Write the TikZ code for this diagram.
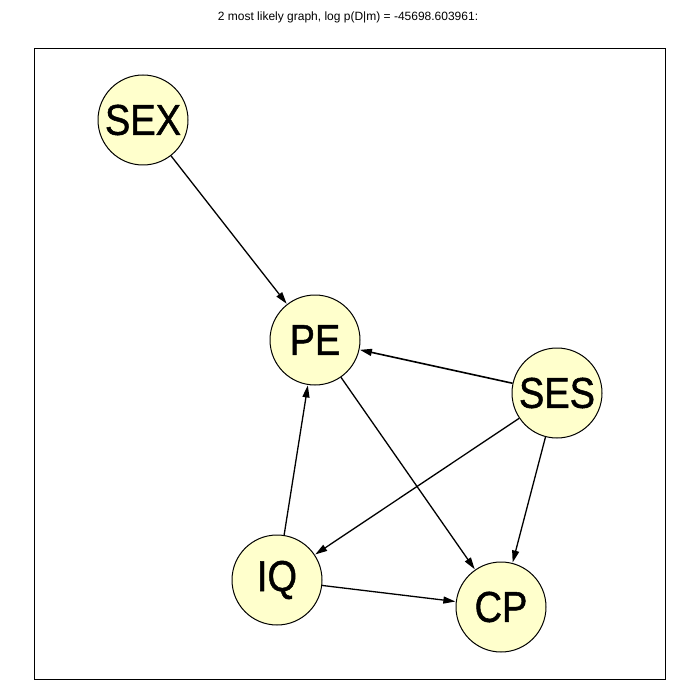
\documentclass[tikz,border=0pt]{standalone}
\usepackage{fontspec}
\setmainfont{Liberation Sans}
\newfontfamily\nodefont[FakeBold=1.2]{Liberation Sans}
\usetikzlibrary{arrows.meta}
\definecolor{nodefill}{RGB}{255,255,204}
\tikzset{
  var/.style={circle, draw=black, line width=1pt, fill=nodefill, minimum size=90pt, inner sep=0pt,
    font=\nodefont\fontsize{40}{40}\selectfont},
  edge/.style={line width=1.3pt, -{Triangle[length=12pt,width=7pt]}, shorten >=0.5pt}
}
\begin{document}
\begin{tikzpicture}[x=1pt,y=-1pt]
\useasboundingbox (0,0) rectangle (700,700);
\fill[white] (0,0) rectangle (700,700);
\node (title) at (348,17) {\fontsize{12}{12}\selectfont 2 most likely graph, log p(D|m) = -45698.603961:};
\draw[line width=1pt] (34.5,48.5) rectangle (665,679);
\node[var] (SEX) at (143,120) {\scalebox{0.95}[1.08]{SEX}};
\node[var] (PE) at (315,340) {\scalebox{0.95}[1.08]{PE}};
\node[var] (SES) at (557,393) {\scalebox{0.95}[1.08]{SES}};
\node[var] (IQ) at (277,580) {\scalebox{0.95}[1.08]{IQ}};
\node[var] (CP) at (501,607) {\scalebox{0.95}[1.08]{CP}};
\draw[edge] (SEX) -- (PE);
\draw[edge, line width=1.6pt] (SES) -- (PE);
\draw[edge] (SES) -- (IQ);
\draw[edge] (SES) -- (CP);
\draw[edge] (PE) -- (CP);
\draw[edge] (IQ) -- (PE);
\draw[edge] (IQ) -- (CP);
\end{tikzpicture}
\end{document}
